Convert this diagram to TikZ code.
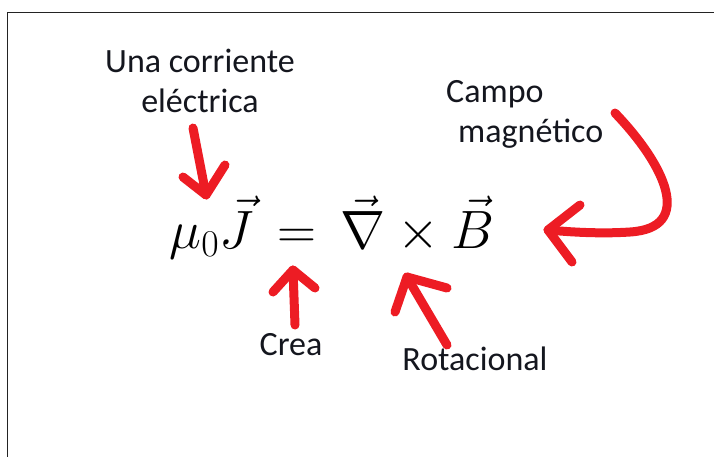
\RequirePackage{fix-cm}
\documentclass[tikz,border=0pt]{standalone}
\usepackage{amsmath}
\usepackage{fontspec}
\usetikzlibrary{positioning}
\newfontfamily\notefont{Carlito}
\definecolor{paintred}{RGB}{237,28,36}
\definecolor{frameink}{RGB}{35,35,35}
\definecolor{noteink}{RGB}{20,22,30}

\begin{document}
\begin{tikzpicture}[x=1pt, y=-1pt,
  anno/.style={font=\notefont\fontsize{34}{40}\selectfont, text=noteink, inner sep=0pt, anchor=base, align=center},
  redpen/.style={draw=paintred, line width=9pt, line cap=round, line join=round}]
  \useasboundingbox (0,0) rectangle (714,456);
  \draw[frameink, line width=1.6pt] (7.5,480) -- (7.5,12.5) -- (740,12.5);

  % the law
  \node[font=\fontsize{54}{64}\selectfont, inner sep=0pt, anchor=base] (law) at (332,248) {$\mu_0\vec{J}\,=\,\vec{\nabla}\times\vec{B}$};

  % what each part means (multi-line nodes sit on their last line)
  \node[anno] (current) at (200,112) {Una corriente\\eléctrica};
  \node[anno, align=left, anchor=base west] (field) at (446,142) {Campo\\\hspace*{12pt}magnético};
  \node[anno] (creates) at (291,355) {Crea};
  \node[anno] (curl) at (475,370) {Rotacional};

  % hand drawn arrows
  \coordinate (currenttail) at (193,128);
  \coordinate (currenttip) at (206,195);
  \coordinate (createstail) at (295,325);
  \coordinate (createstip) at (293,270);
  \coordinate (curltail) at (447,345);
  \coordinate (curltip) at (407,277);
  \coordinate (fieldtail) at (615,113);
  \coordinate (fieldtip) at (548,230);

  \draw[redpen] (currenttail) -- (currenttip);
  \draw[redpen] (183,177) -- (currenttip) -- (225,165);
  \draw[redpen] (createstail) -- (createstip);
  \draw[redpen] (273,292) -- (createstip) -- (315,288);
  \draw[redpen] (curltail) -- (curltip);
  \draw[redpen] (395,312) -- (curltip) -- (447,288);
  \draw[redpen] (fieldtail) .. controls (665,165) and (695,228) .. (630,232) .. controls (600,234) and (570,232) .. (fieldtip);
  \draw[redpen] (580,205) -- (fieldtip) -- (572,262);
\end{tikzpicture}
\end{document}
